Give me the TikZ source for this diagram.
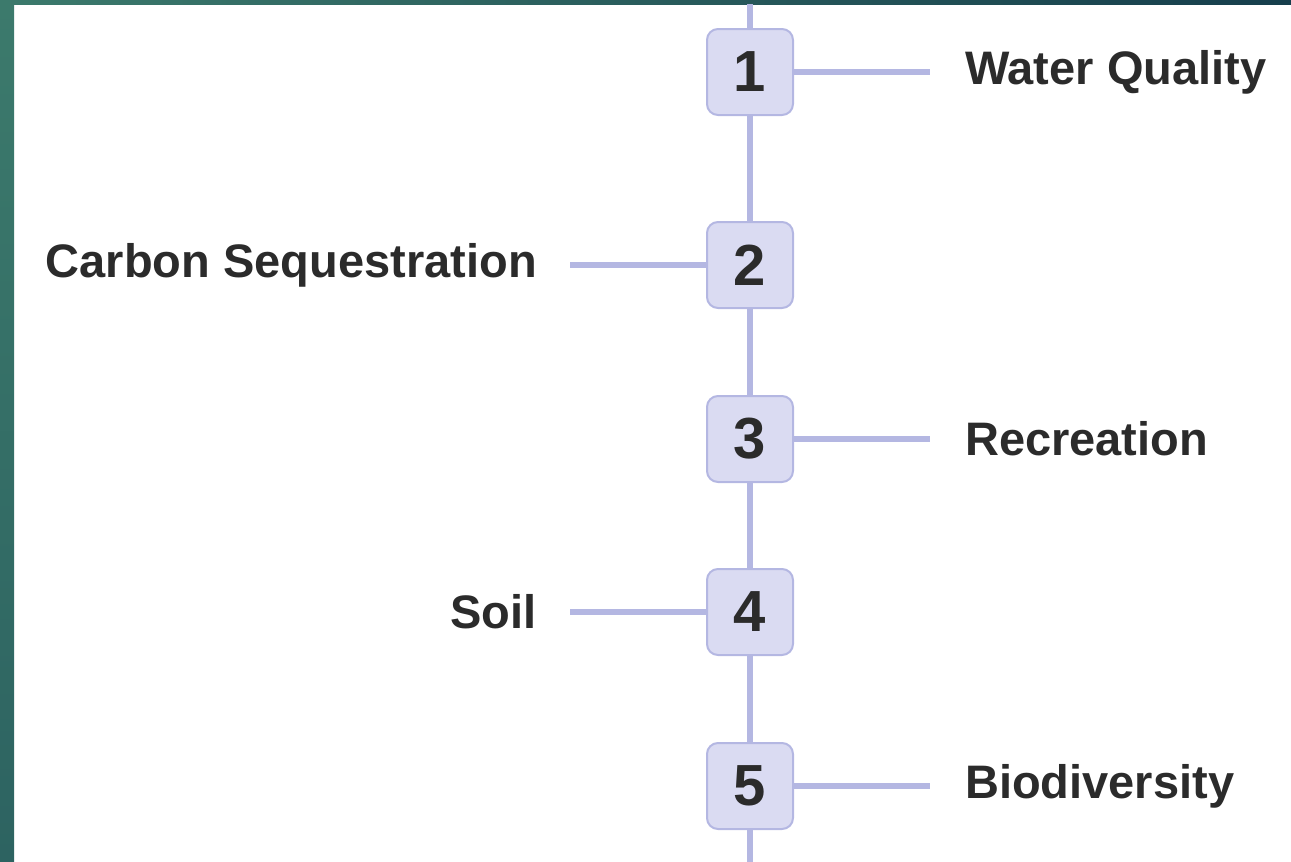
\documentclass[tikz,border=0pt]{standalone}
\usepackage{fontspec}
\setmainfont{Liberation Sans}
\usetikzlibrary{positioning}
\definecolor{frameA}{HTML}{3C7A6C}
\definecolor{frameB}{HTML}{2D6361}
\definecolor{frameC}{HTML}{163E4C}
\definecolor{stemline}{HTML}{B4B7E2}
\definecolor{boxfill}{HTML}{DADBF2}
\definecolor{ink}{HTML}{2B2B2B}
\tikzset{
  numbox/.style={draw=stemline, fill=boxfill, line width=2pt, rounded corners=11pt,
    minimum size=86pt, inner sep=0pt, text=ink, font=\fontsize{58}{60}\selectfont\bfseries},
  evtlabel/.style={inner sep=0pt, text=ink, font=\fontsize{47}{50}\selectfont\bfseries},
  stem/.style={stemline, line width=6pt}
}
\begin{document}
\begin{tikzpicture}[x=1pt,y=-1pt]
  \useasboundingbox (0,0) rectangle (1291,862);
  % frame
  \fill[top color=frameA, bottom color=frameB] (0,0) rectangle (14,862);
  \fill[left color=frameA, right color=frameC] (0,0) rectangle (1291,4);
  % boxes on the stem
  \coordinate (top) at (750,4);
  \coordinate (bottom) at (750,862);
  \foreach \n/\Y in {1/72,2/265,3/439,4/612,5/786} {%
    \node[numbox] (b\n) at (750,\Y) {\n};
  }
  \draw[stem] (top) -- (b1.north);
  \foreach \a/\b in {1/2,2/3,3/4,4/5} {%
    \draw[stem] (b\a.south) -- (b\b.north);
  }
  \draw[stem] (b5.south) -- (bottom);
  % labels
  \coordinate (e1) at (930,72);
  \coordinate (e2) at (570,265);
  \coordinate (e3) at (930,439);
  \coordinate (e4) at (570,612);
  \coordinate (e5) at (930,786);
  \node[evtlabel, right=35pt of e1] (l1) {Water Quality};
  \node[evtlabel, left=33pt of e2] (l2) {Carbon Sequestration};
  \node[evtlabel, right=35pt of e3] (l3) {Recreation};
  \node[evtlabel, left=33pt of e4] (l4) {Soil};
  \node[evtlabel, right=35pt of e5] (l5) {Biodiversity};
  \draw[stem] (b1.east) -- (e1);
  \draw[stem] (b2.west) -- (e2);
  \draw[stem] (b3.east) -- (e3);
  \draw[stem] (b4.west) -- (e4);
  \draw[stem] (b5.east) -- (e5);
\end{tikzpicture}
\end{document}
